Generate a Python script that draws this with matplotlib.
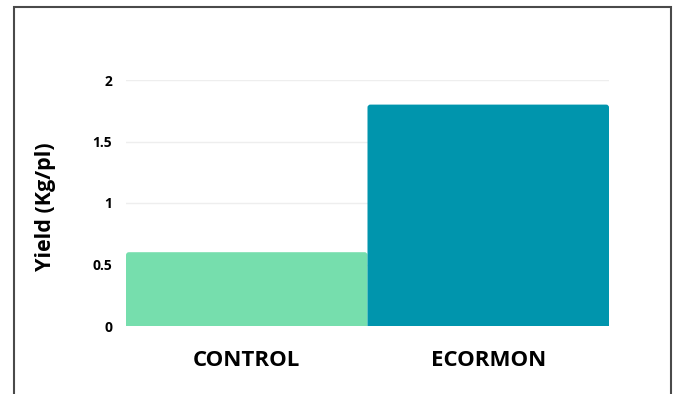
import matplotlib
matplotlib.use("Agg")
import matplotlib.pyplot as plt
from matplotlib.patches import Rectangle, FancyBboxPatch

# datos
categorias = ["CONTROL", "ECORMON"]
rendimiento = [0.6, 1.8]
colores = ["#76DEAD", "#0095AD"]
ticks_y = [0, 0.5, 1, 1.5, 2]
etiquetas_y = ["0", "0.5", "1", "1.5", "2"]

plt.rcParams['font.family'] = ['Open Sans', 'DejaVu Sans']

fig = plt.figure(figsize=(6.75, 3.94), dpi=100)
ax = fig.add_axes([126 / 675, 1 - 326 / 394, (609 - 126) / 675, (326 - 80) / 394])

barras = ax.bar(range(len(categorias)), rendimiento, width=1.0, color=colores, zorder=3)

# esquinas superiores redondeadas
for b in barras:
    x0, y0 = b.get_x(), b.get_y()
    w, h = b.get_width(), b.get_height()
    b.set_visible(False)
    p = FancyBboxPatch((x0, y0 - 0.1), w, h + 0.1,
                       boxstyle="round,pad=0,rounding_size=0.012",
                       mutation_aspect=(2 / 246) / (2 / 483),
                       facecolor=b.get_facecolor(), edgecolor='none', zorder=3)
    ax.add_patch(p)

ax.set_xlim(-0.5, len(categorias) - 0.5)
ax.set_ylim(0, 2)

ax.set_yticks(ticks_y)
ax.set_yticklabels(etiquetas_y, fontsize=10, fontweight='bold')
ax.set_xticks(range(len(categorias)))
ax.set_xticklabels(categorias, fontsize=16, fontweight='bold')
ax.tick_params(axis='y', length=0, pad=10)
ax.tick_params(axis='x', length=0, pad=17)
ax.grid(axis='y', color='#EEEEEE', linewidth=1, zorder=0)
for s in ax.spines.values():
    s.set_visible(False)

fig.text(45 / 675, 1 - 207 / 394, "Yield (Kg/pl)", rotation=90, ha='center', va='center',
         fontsize=15.5, fontweight='bold')

# marco
marco = Rectangle((14 / 675, -0.1), (671 - 14) / 675, 1.1 - 7 / 394, transform=fig.transFigure,
                  fill=False, edgecolor='#4A4A4A', linewidth=1.5)
fig.patches.append(marco)

fig.savefig("out.png", dpi=100)
